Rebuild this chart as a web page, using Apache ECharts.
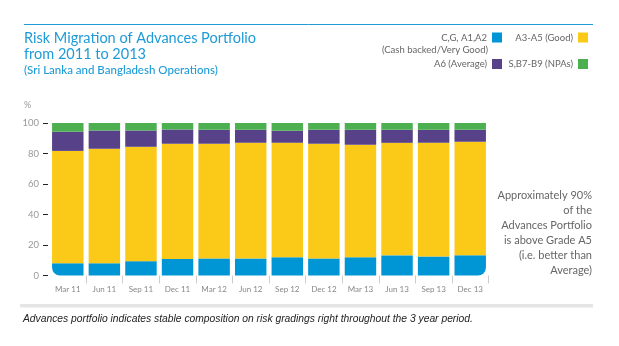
<!DOCTYPE html>
<html>
<head>
<meta charset="utf-8">
<script src="https://cdn.jsdelivr.net/npm/echarts@6/dist/echarts.min.js"></script>
<style>
html,body{margin:0;padding:0;background:#fff;}
#chart{width:619px;height:346px;}
</style>
</head>
<body>
<div id="chart"></div>
<script>
const categories = ['Mar 11','Jun 11','Sep 11','Dec 11','Mar 12','Jun 12','Sep 12','Dec 12','Mar 13','Jun 13','Sep 13','Dec 13'];
const seriesNames = ['C,G, A1,A2','A3-A5 (Good)','A6 (Average)','S,B7-B9 (NPAs)'];
const cashBacked = [8.1, 8.0, 9.4, 10.8, 11.2, 11.2, 11.9, 11.2, 11.9, 13.2, 12.5, 13.2];
const good       = [73.6, 75.1, 75.0, 75.6, 75.2, 75.8, 75.1, 75.2, 73.8, 73.8, 74.5, 74.5];
const average    = [12.6, 12.0, 10.7, 9.4, 9.2, 8.6, 7.9, 9.2, 9.9, 8.6, 8.6, 7.9];
const npa        = [5.7, 4.9, 4.9, 4.2, 4.4, 4.4, 5.1, 4.4, 4.4, 4.4, 4.4, 4.4];
const yTicks = [0, 20, 40, 60, 80, 100];

const colors = ['#0096d6', '#fbca18', '#574189', '#4caf50'];
const F = 'Lato, "Open Sans", sans-serif';

const chart = echarts.init(document.getElementById('chart'), null, {renderer: 'canvas'});

const blueData = cashBacked.map((v, i) => {
  if (i === 0) return {value: v, itemStyle: {borderRadius: [0, 0, 0, 8]}};
  if (i === cashBacked.length - 1) return {value: v, itemStyle: {borderRadius: [0, 0, 8, 0]}};
  return v;
});

function legendItem(name, right, top) {
  return {
    data: [name], right: right, top: top, align: 'right', icon: 'rect',
    itemWidth: 10, itemHeight: 10, selectedMode: false, padding: 0,
    textStyle: {fontFamily: F, fontSize: 9.5, color: '#666'}
  };
}

const option = {
  animation: false,
  color: colors,
  grid: {left: 49.5, right: 130.5, top: 123, bottom: 70.5, containLabel: false},
  legend: [
    legendItem(seriesNames[0], 117, 32.5),
    legendItem(seriesNames[1], 31, 32.5),
    legendItem(seriesNames[2], 117, 59),
    legendItem(seriesNames[3], 31, 59)
  ],
  xAxis: {
    type: 'category', data: categories, offset: 7,
    axisLine: {show: false},
    axisTick: {show: true, length: 8, interval: function (i) { return i > 0; }, lineStyle: {color: '#ccc'}},
    axisLabel: {margin: 3, fontFamily: F, fontSize: 8, color: '#888'}
  },
  yAxis: {
    type: 'value', min: 0, max: 100, interval: 20, offset: 1.5,
    axisLine: {show: false},
    axisTick: {show: true, length: 5, lineStyle: {color: '#222'}},
    splitLine: {show: false},
    axisLabel: {margin: 9, fontFamily: F, fontSize: 9.5, color: '#999',
      formatter: function (v) { return yTicks.indexOf(v) >= 0 ? String(v) : ''; }}
  },
  series: [
    {name: seriesNames[0], type: 'bar', stack: 'a', barCategoryGap: '14%', data: blueData},
    {name: seriesNames[1], type: 'bar', stack: 'a', data: good},
    {name: seriesNames[2], type: 'bar', stack: 'a', data: average},
    {name: seriesNames[3], type: 'bar', stack: 'a', data: npa}
  ],
  graphic: [
    {type: 'line', shape: {x1: 24, y1: 24.5, x2: 593, y2: 24.5}, style: {stroke: '#1e9bd7', lineWidth: 1}},
    {type: 'text', x: 24, y: 30.5, style: {text: 'Risk Migration of Advances Portfolio', font: '14.5px ' + F, fill: '#1e9bd7'}},
    {type: 'text', x: 24, y: 46.5, style: {text: 'from 2011 to 2013', font: '14.5px ' + F, fill: '#1e9bd7'}},
    {type: 'text', x: 24, y: 64, style: {text: '(Sri Lanka and Bangladesh Operations)', font: '500 11.5px ' + F, fill: '#1e9bd7'}},
    {type: 'text', x: 488, y: 44.5, style: {text: '(Cash backed/Very Good)', font: '9.5px ' + F, fill: '#666', align: 'right'}},
    {type: 'text', x: 24, y: 101, style: {text: '%', font: '9px ' + F, fill: '#999'}},
    {type: 'text', x: 592, y: 188, style: {
      text: 'Approximately 90%\nof the\nAdvances Portfolio\nis above Grade A5\n(i.e. better than\nAverage)',
      font: '11px ' + F, fill: '#666', align: 'right', lineHeight: 15}},
    {type: 'rect', shape: {x: 20, y: 304, width: 573, height: 3.5}, style: {fill: '#e5e5e5'}},
    {type: 'text', x: 23, y: 314, style: {
      text: 'Advances portfolio indicates stable composition on risk gradings right throughout the 3 year period.',
      font: 'italic 10.3px "Liberation Sans", Arial, sans-serif', fill: '#222'}}
  ]
};
chart.setOption(option);
</script>
</body>
</html>
